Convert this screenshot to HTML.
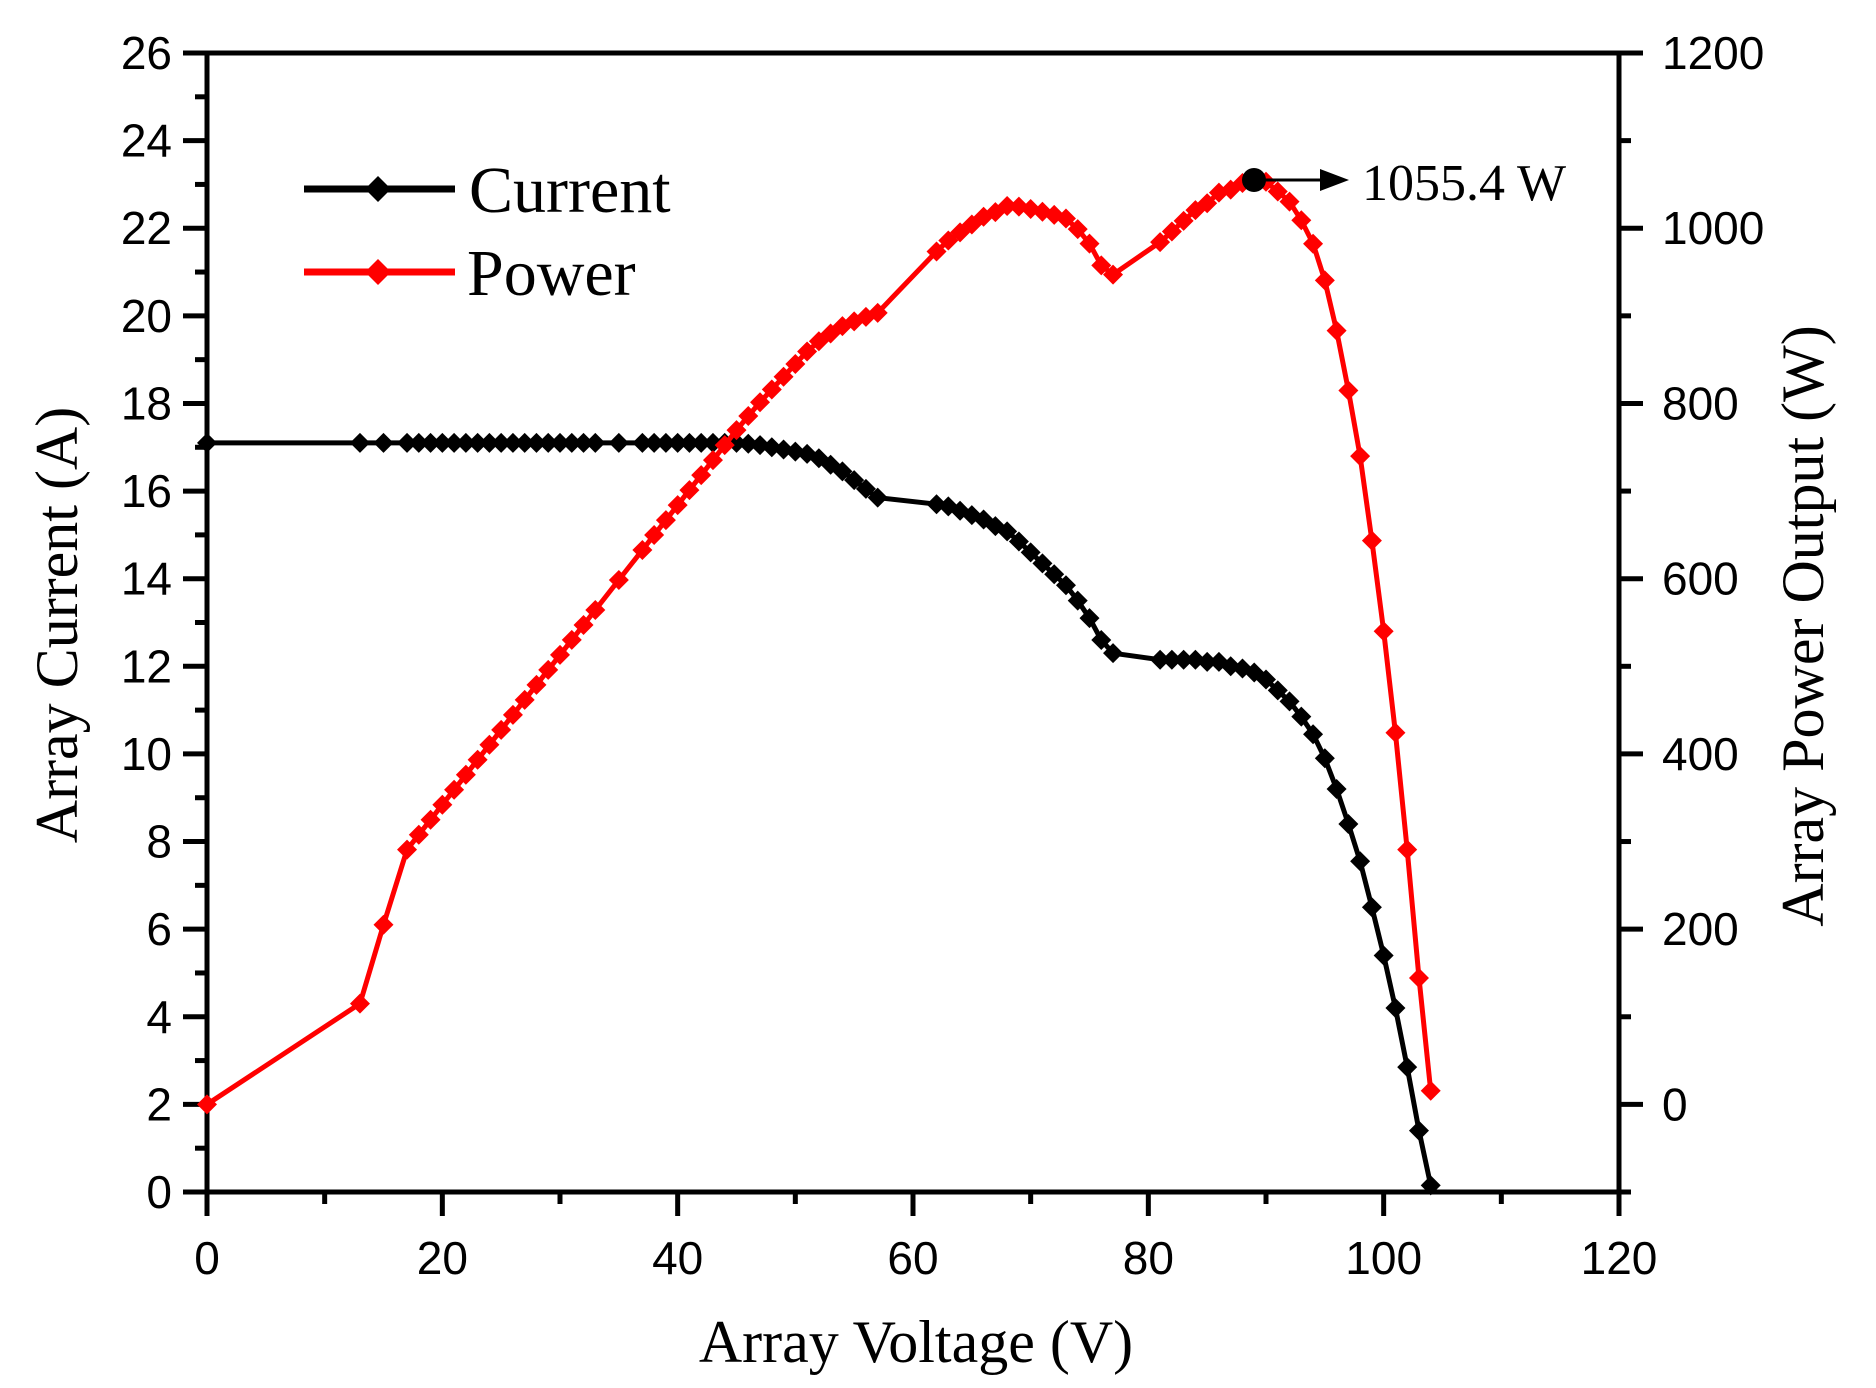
<!DOCTYPE html>
<html><head><meta charset="utf-8"><style>
html,body{margin:0;padding:0;background:#fff;}
svg{display:block;}
</style></head><body>
<svg id="s" width="1876" height="1388" xmlns="http://www.w3.org/2000/svg"></svg>
<script>
var X0=207,X1=1619,Y0=1192,YT=53;
function xv(v){return X0+v*(X1-X0)/120;}
function yi(a){return Y0-a*(Y0-YT)/26;}
function yp(p){return Y0-(p+100)*(Y0-YT)/1300;}
var d=[[0,17.1],[13,17.1],[15,17.1]];
for(var v=17;v<=33;v++)d.push([v,17.1]);
d.push([35,17.1]);
for(var v=37;v<=45;v++)d.push([v,17.1]);
var rest=[[46,17.08],[47,17.05],[48,17.0],[49,16.95],[50,16.9],[51,16.85],[52,16.75],[53,16.6],[54,16.45],[55,16.25],[56,16.05],[57,15.85],[62,15.7],[63,15.65],[64,15.55],[65,15.45],[66,15.35],[67,15.2],[68,15.08],[69,14.85],[70,14.6],[71,14.35],[72,14.1],[73,13.85],[74,13.5],[75,13.1],[76,12.6],[77,12.3],[81,12.15],[82,12.15],[83,12.15],[84,12.15],[85,12.1],[86,12.1],[87,12.0],[88,11.95],[89,11.858],[90,11.7],[91,11.45],[92,11.2],[93,10.85],[94,10.45],[95,9.9],[96,9.2],[97,8.4],[98,7.55],[99,6.5],[100,5.4],[101,4.2],[102,2.85],[103,1.4],[104,0.15]];
d=d.concat(rest);
var h='';
h+='<g stroke="#000" stroke-width="5" fill="none">';
h+='<rect x="'+X0+'" y="'+YT+'" width="'+(X1-X0)+'" height="'+(Y0-YT)+'"/>';
for(var a=0;a<=26;a++){var y=yi(a);h+='<line x1="'+(X0-(a%2?12:24))+'" y1="'+y+'" x2="'+X0+'" y2="'+y+'"/>';}
for(var v=0;v<=120;v+=10){var x=xv(v);h+='<line x1="'+x+'" y1="'+Y0+'" x2="'+x+'" y2="'+(Y0+(v%20?12:24))+'"/>';}
for(var p=-100;p<=1200;p+=100){var y=yp(p);h+='<line x1="'+X1+'" y1="'+y+'" x2="'+(X1+(p%200?12:24))+'" y2="'+y+'"/>';}
h+='</g>';
h+='<g font-family="Liberation Sans, sans-serif" font-size="46" fill="#000">';
for(var a=0;a<=26;a+=2)h+='<text x="172" y="'+(yi(a)+16)+'" text-anchor="end">'+a+'</text>';
for(var v=0;v<=120;v+=20)h+='<text x="'+xv(v)+'" y="'+(Y0+82)+'" text-anchor="middle">'+v+'</text>';
for(var p=0;p<=1200;p+=200)h+='<text x="1662" y="'+(yp(p)+16)+'">'+p+'</text>';
h+='</g>';
function dia(x,y,c,r){return '<path d="M'+x+' '+(y-r)+'L'+(x+r)+' '+y+'L'+x+' '+(y+r)+'L'+(x-r)+' '+y+'Z" fill="'+c+'"/>';}
var pts=d.map(function(e){return xv(e[0]).toFixed(1)+','+yi(e[1]).toFixed(1);}).join(' ');
h+='<polyline points="'+pts+'" fill="none" stroke="#000" stroke-width="5"/>';
d.forEach(function(e){h+=dia(xv(e[0]),yi(e[1]),'#000',10);});
var pw=d.map(function(e){var p=e[0]*e[1];if(e[0]==13)p=115;if(e[0]==15)p=205;return [e[0],p];});
pts=pw.map(function(e){return xv(e[0]).toFixed(1)+','+yp(e[1]).toFixed(1);}).join(' ');
h+='<polyline points="'+pts+'" fill="none" stroke="#f00" stroke-width="5"/>';
pw.forEach(function(e){h+=dia(xv(e[0]),yp(e[1]),'#f00',10);});
h+='<circle cx="1254" cy="180" r="12" fill="#000"/>';
h+='<line x1="1254" y1="180" x2="1325" y2="180" stroke="#000" stroke-width="3"/>';
h+='<path d="M1320 169L1349 180L1320 191Z" fill="#000"/>';
h+='<text x="1362" y="200" font-family="Liberation Serif, serif" font-size="52">1055.4 W</text>';
h+='<line x1="304" y1="189" x2="455" y2="189" stroke="#000" stroke-width="7"/>'+dia(378,189,'#000',13);
h+='<line x1="304" y1="272" x2="455" y2="272" stroke="#f00" stroke-width="7"/>'+dia(378,272,'#f00',13);
h+='<g font-family="Liberation Serif, serif" font-size="66" fill="#000">';
h+='<text x="469" y="212">Current</text><text x="467" y="295">Power</text></g>';
h+='<g font-family="Liberation Serif, serif" font-size="60" fill="#000" text-anchor="middle">';
h+='<text transform="translate(77,625) rotate(-90)">Array Current (A)</text>';
h+='<text transform="translate(1823,626) rotate(-90)">Array Power Output (W)</text>';
h+='<text x="916" y="1362">Array Voltage (V)</text></g>';
document.getElementById('s').innerHTML=h;
</script>
</body></html>
